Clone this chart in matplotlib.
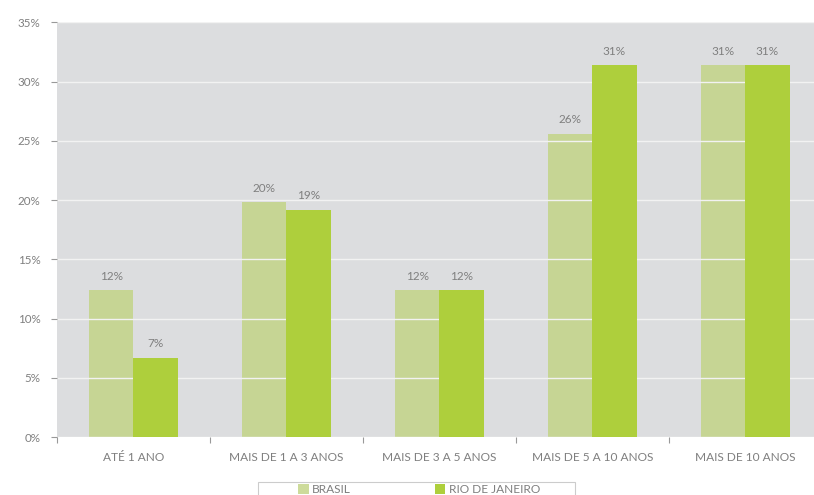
import matplotlib.pyplot as plt
from matplotlib.ticker import FuncFormatter, FixedLocator
from matplotlib.patches import Rectangle
import numpy as np

plt.rcParams['font.family'] = ['Lato', 'DejaVu Sans']

# tempo de residência por faixa
categorias = ["ATÉ 1 ANO", "MAIS DE 1 A 3 ANOS", "MAIS DE 3 A 5 ANOS",
              "MAIS DE 5 A 10 ANOS", "MAIS DE 10 ANOS"]
brasil = [12.4, 19.8, 12.4, 25.6, 31.4]
rio = [6.7, 19.2, 12.4, 31.4, 31.4]
series = ["BRASIL", "RIO DE JANEIRO"]

cor_texto = "#7f7f7f"
cor_brasil = (193/255, 211/255, 129/255)
cor_rio = "#aecf3c"

fig = plt.figure(figsize=(8.14, 4.95), dpi=100)
ax = fig.add_axes([0.070, 0.117, 0.93, 0.838])
ax.set_facecolor("#dcdddf")

x = np.arange(len(categorias))
w = 0.29
b1 = ax.bar(x - w/2, brasil, w, color=cor_brasil, alpha=0.8, zorder=1, label=series[0])
b2 = ax.bar(x + w/2, rio, w, color=cor_rio, zorder=3, label=series[1])

ax.set_ylim(0, 35)
ax.set_xlim(-0.5, 4.45)
ax.yaxis.set_major_locator(FixedLocator(np.arange(0, 36, 5)))
ax.yaxis.set_major_formatter(FuncFormatter(lambda v, p: f"{v:.0f}%"))
ax.grid(axis="y", color="#f2f2f2", linewidth=1)
ax.set_axisbelow(False)
for gl in ax.get_ygridlines():
    gl.set_zorder(2)

ax.set_xticks(x)
ax.set_xticklabels(categorias)
ax.set_xticks(np.arange(-0.5, 4.5, 1), minor=True)
ax.tick_params(axis="x", which="major", length=0, pad=11, labelsize=8.6, labelcolor=cor_texto)
ax.tick_params(axis="x", which="minor", length=4, color="#999999", width=0.8)
ax.tick_params(axis="y", length=4, color="#999999", width=0.8, pad=8,
               labelsize=8.4, labelcolor=cor_texto)
for s in ax.spines.values():
    s.set_visible(False)

for bars, vals in ((b1, brasil), (b2, rio)):
    for r, v in zip(bars, vals):
        ax.annotate(f"{v:.0f}%", (r.get_x() + r.get_width()/2, v),
                    xytext=(0, 6), textcoords="offset points",
                    ha="center", va="bottom", fontsize=8.5, color=cor_texto, zorder=5)

# caixa da legenda, cortada pela borda inferior
fig.patches.append(Rectangle((258/814, -0.05), 317/814, 0.05 + 13/495,
                             transform=fig.transFigure, facecolor="white",
                             edgecolor="#cccccc", linewidth=0.8))

leg = fig.legend(handles=[b1, b2], labels=series, loc="upper center",
                 bbox_to_anchor=(419/814, 1 - 484/495), ncol=2, frameon=False,
                 fontsize=8.6, handlelength=0.9, handleheight=0.9,
                 handletextpad=0.3, borderpad=0.0, borderaxespad=0,
                 columnspacing=7, labelcolor=cor_texto)
leg.legend_handles[0].set_alpha(0.8)

fig.savefig("out.png", dpi=100)
